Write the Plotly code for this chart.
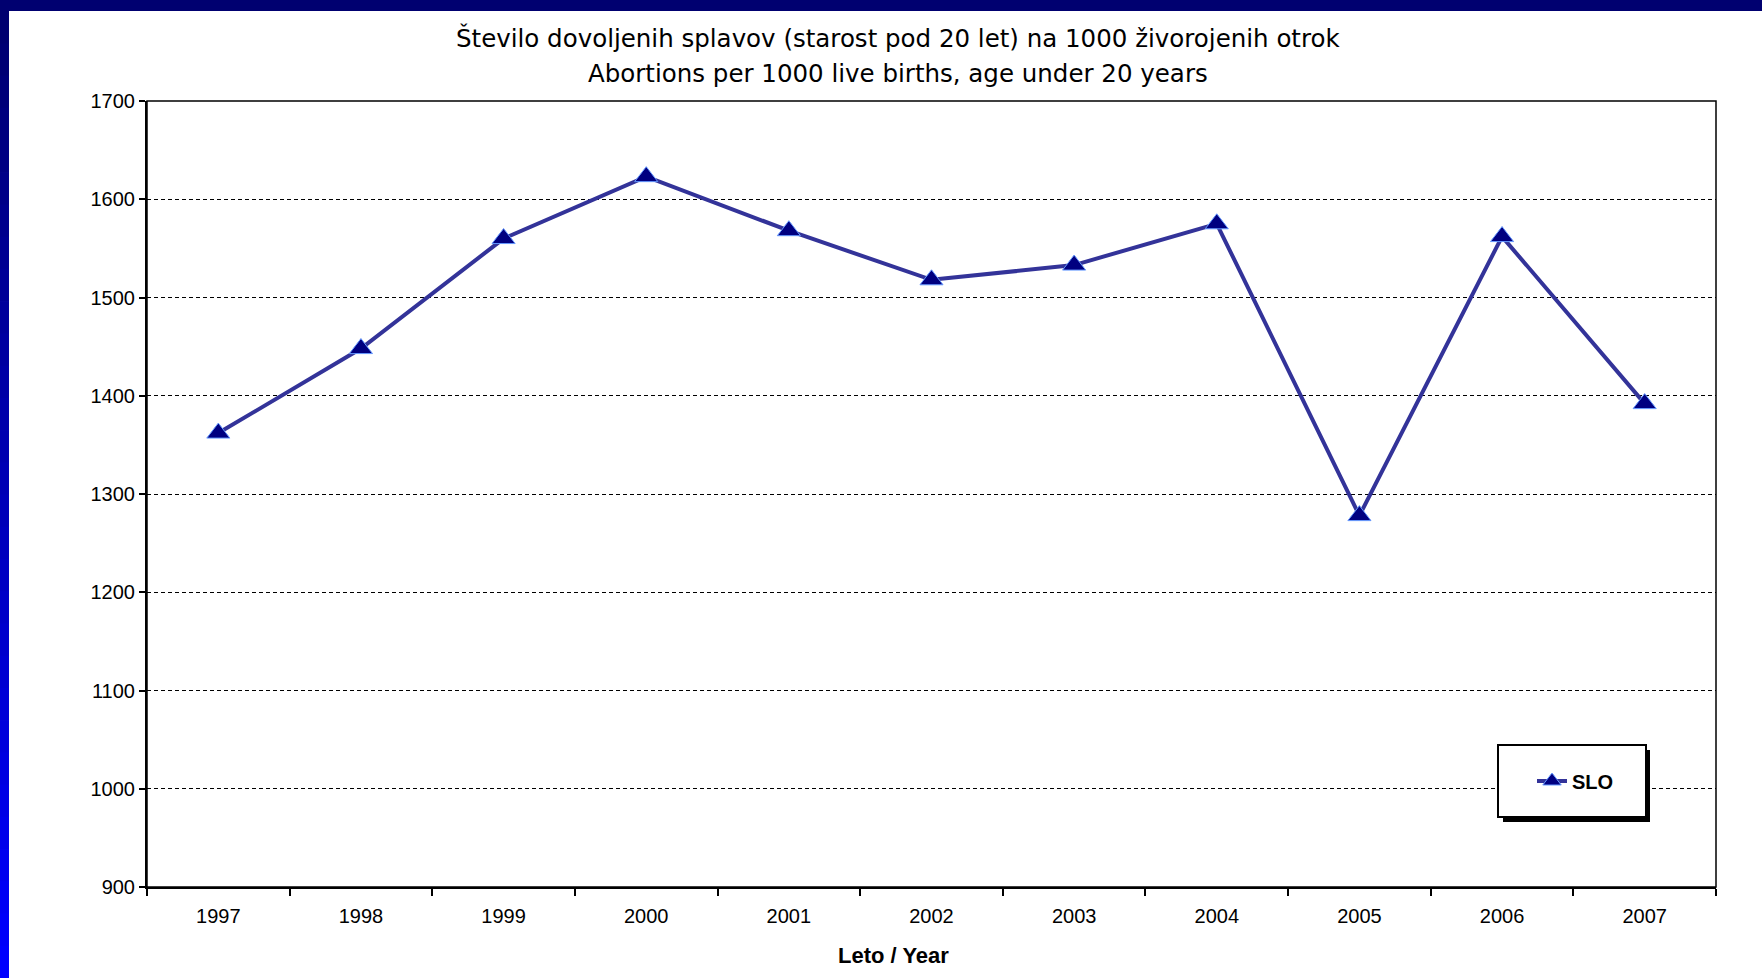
import plotly.graph_objects as go

years = ["1997", "1998", "1999", "2000", "2001", "2002", "2003", "2004", "2005", "2006", "2007"]
slo = [1362, 1448, 1560, 1623, 1568, 1518, 1533, 1575, 1278, 1562, 1392]
y_ticks = [900, 1000, 1100, 1200, 1300, 1400, 1500, 1600, 1700]

title_sl = "Število dovoljenih splavov (starost pod 20 let) na 1000 živorojenih otrok"
title_en = "Abortions per 1000 live births, age under 20 years"
x_title = "Leto / Year"

W, H = 1762, 978
L, R, T, B = 147, 1716, 101, 887
pw, ph = R - L, B - T


def px(x):
    return (x - L) / pw


def py(y):
    return (B - y) / ph


sans = "Liberation Sans, Arial, sans-serif"
wide = "DejaVu Sans, Verdana, sans-serif"

fig = go.Figure()
fig.add_trace(go.Scatter(
    x=years, y=slo, mode="lines+markers", name="SLO",
    line=dict(color="#333399", width=4),
    marker=dict(symbol="triangle-up", size=20, color="#000080",
                line=dict(color="#6699ff", width=1)),
))

shapes = []
# left gradient strip and top bar (frame)
n = 30
for i in range(n):
    t = i / (n - 1)
    b = int(112 + (255 - 112) * t)
    shapes.append(dict(type="rect", xref="paper", yref="paper",
                       x0=px(0), x1=px(9), y0=py(11 + (H - 11) * (i + 1) / n) - 0.001,
                       y1=py(11 + (H - 11) * i / n),
                       fillcolor=f"rgb(0,0,{b})", line=dict(width=0), layer="below"))
shapes.append(dict(type="rect", xref="paper", yref="paper",
                   x0=px(0), x1=px(W), y0=py(11), y1=py(0),
                   fillcolor="#000070", line=dict(width=0), layer="below"))
# plot border (top/right)
shapes.append(dict(type="rect", xref="paper", yref="paper", x0=0, x1=1, y0=0, y1=1,
                   line=dict(color="black", width=1.5), layer="above"))
# legend shadow + box
shapes.append(dict(type="rect", xref="paper", yref="paper",
                   x0=px(1503), x1=px(1650), y0=py(822), y1=py(750),
                   fillcolor="black", line=dict(width=0), layer="above"))
shapes.append(dict(type="rect", xref="paper", yref="paper",
                   x0=px(1498), x1=px(1646), y0=py(817), y1=py(745),
                   fillcolor="white", line=dict(color="black", width=2), layer="above"))

annotations = [
    dict(text=title_sl, xref="paper", yref="paper", x=px(898), y=py(38),
         xanchor="center", yanchor="middle", showarrow=False,
         font=dict(family=wide, size=24.5, color="black")),
    dict(text=title_en, xref="paper", yref="paper", x=px(898), y=py(73),
         xanchor="center", yanchor="middle", showarrow=False,
         font=dict(family=wide, size=24.5, color="black")),
    dict(text="<b>" + x_title + "</b>", xref="paper", yref="paper", x=px(893), y=py(955),
         xanchor="center", yanchor="middle", showarrow=False,
         font=dict(family=sans, size=22, color="black")),
]

fig.update_layout(
    width=W, height=H,
    margin=dict(l=L, r=W - R, t=T, b=H - B, pad=0),
    paper_bgcolor="white", plot_bgcolor="white",
    shapes=shapes, annotations=annotations,
    showlegend=True,
    legend=dict(x=px(1532), y=py(781), xanchor="left", yanchor="middle",
                bgcolor="rgba(0,0,0,0)", borderwidth=0,
                font=dict(family=sans, size=20, color="black", weight="bold")),
    xaxis=dict(type="category", range=[-0.5, 10.5], showgrid=False,
               showline=True, linecolor="black", linewidth=2,
               ticks="outside", tickson="boundaries", ticklen=7, tickwidth=2, tickcolor="black",
               ticklabelstandoff=10,
               tickfont=dict(family=sans, size=20, color="black"), zeroline=False),
    yaxis=dict(range=[900, 1700], tickvals=y_ticks, showgrid=True,
               gridcolor="black", gridwidth=1, griddash="4px,3px",
               showline=True, linecolor="black", linewidth=2,
               ticks="outside", ticklen=6, tickwidth=2, tickcolor="black",
               tickfont=dict(family=sans, size=20, color="black"), zeroline=False),
)

fig.write_html("out.html", config={"displayModeBar": False},
               post_script="document.body.style.margin='0';document.body.style.overflow='hidden';")
